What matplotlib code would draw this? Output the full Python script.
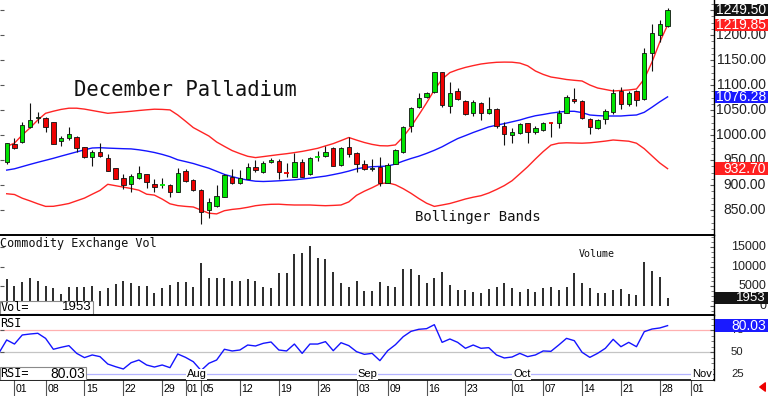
import numpy as np
import pandas as pd
import matplotlib
matplotlib.use('Agg')
import matplotlib.pyplot as plt
from matplotlib import transforms
from matplotlib.patches import Rectangle, FancyArrowPatch
from matplotlib.ticker import MultipleLocator

# ---------------- data ----------------
holidays = ['2024-07-04', '2024-09-02']
dates = pd.bdate_range('2024-06-28', '2024-10-29', freq='C', holidays=holidays)

open_ = np.array([
    946.7, 981.3, 986.6, 1016.6, 1034.0, 1034.6, 1025.3, 988.0, 993.3, 996.6,
    975.3, 955.3, 966.6, 954.6, 934.6, 913.3, 901.3, 913.3, 922.0, 901.3,
    899.5, 900.0, 886.6, 928.0, 910.0, 890.0, 850.0, 858.0, 876.6, 916.6,
    904.6, 912.0, 935.3, 925.3, 945.3, 948.6, 925.5, 916.6, 946.6, 921.3,
    956.2, 958.6, 973.3, 940.0, 975.3, 963.3, 942.0, 932.4, 936.6, 903.3,
    942.0, 966.6, 1018.0, 1056.6, 1075.3, 1086.6, 1125.3, 1058.0, 1088.6, 1068.6,
    1044.6, 1064.6, 1044.6, 1051.3, 1018.0, 1000.0, 1004.6, 1023.3, 1006.6, 1010.0,
    1025.0, 1024.6, 1044.6, 1072.0, 1068.0, 1031.3, 1013.3, 1031.3, 1046.6, 1088.6,
    1062.0, 1088.0, 1071.3, 1164.6, 1200.0, 1218.0])
high = np.array([
    985.0, 994.6, 1025.3, 1063.3, 1045.3, 1036.6, 1026.6, 998.6, 1016.6, 998.6,
    976.6, 970.0, 983.3, 961.3, 934.6, 922.0, 921.3, 938.6, 922.0, 912.0,
    914.6, 901.3, 933.3, 932.0, 911.3, 891.3, 873.3, 900.0, 921.3, 931.3,
    930.0, 943.3, 950.0, 948.0, 954.6, 951.3, 943.3, 964.6, 951.3, 955.3,
    968.6, 978.0, 976.6, 975.3, 996.6, 966.0, 950.0, 951.3, 956.6, 943.3,
    971.3, 1018.0, 1056.6, 1083.3, 1086.6, 1126.6, 1126.6, 1106.6, 1093.3, 1070.0,
    1070.0, 1066.6, 1076.6, 1053.3, 1026.6, 1013.3, 1024.6, 1024.6, 1018.0, 1026.6,
    1026.6, 1050.0, 1080.0, 1093.3, 1070.0, 1033.3, 1031.3, 1051.3, 1091.3, 1095.3,
    1088.6, 1090.0, 1173.3, 1222.0, 1230.0, 1253.3])
low = np.array([
    943.0, 972.0, 983.3, 1013.3, 1023.3, 1005.3, 981.3, 978.6, 990.0, 966.6,
    954.6, 938.0, 956.6, 928.0, 911.3, 892.0, 885.3, 912.0, 894.6, 886.6,
    894.6, 876.6, 885.3, 906.0, 888.6, 822.5, 833.3, 855.3, 876.6, 902.0,
    902.0, 911.3, 926.6, 923.3, 943.3, 911.3, 916.6, 915.3, 916.6, 920.0,
    948.6, 956.6, 938.0, 938.0, 956.6, 927.0, 930.0, 928.6, 898.0, 903.3,
    942.0, 964.6, 1006.6, 1053.3, 1073.3, 1084.6, 1056.6, 1043.3, 1070.0, 1040.0,
    1038.0, 1030.0, 1042.0, 1013.3, 980.0, 984.6, 1002.0, 983.3, 1002.0, 1008.6,
    995.3, 1013.3, 1043.3, 1063.3, 1031.3, 1002.0, 1011.3, 1022.0, 1042.0, 1051.3,
    1058.0, 1058.0, 1070.0, 1128.6, 1186.6, 1216.6])
close = np.array([
    983.3, 974.6, 1020.0, 1030.0, 1036.0, 1016.6, 982.0, 993.3, 1001.3, 974.6,
    955.3, 966.6, 958.6, 928.6, 912.0, 900.0, 918.0, 923.3, 905.3, 895.3,
    900.5, 886.6, 923.3, 908.0, 890.0, 846.0, 866.6, 878.0, 920.0, 904.6,
    913.3, 935.3, 930.0, 944.6, 950.0, 925.3, 924.8, 946.6, 916.6, 953.3,
    956.8, 966.6, 938.6, 973.3, 962.0, 942.6, 931.3, 934.0, 904.6, 940.0,
    970.0, 1016.6, 1054.6, 1073.3, 1083.3, 1125.3, 1060.0, 1084.6, 1071.3, 1042.0,
    1065.3, 1044.6, 1051.3, 1018.0, 1002.0, 1006.6, 1021.3, 1006.6, 1013.3, 1024.6,
    1024.2, 1044.6, 1076.6, 1068.6, 1033.3, 1015.3, 1030.0, 1048.6, 1084.6, 1062.0,
    1084.6, 1070.0, 1164.6, 1203.3, 1222.0, 1249.5])

bb_upper = np.array([
    977.0, 983.8, 1000.0, 1014.2, 1030.0, 1043.4, 1047.6, 1051.2, 1053.6, 1053.6,
    1051.8, 1049.0, 1046.2, 1043.4, 1044.8, 1046.0, 1047.4, 1049.0, 1050.4, 1051.6,
    1051.2, 1050.2, 1040.0, 1027.6, 1014.8, 1006.4, 998.0, 986.0, 977.2, 968.8,
    962.8, 957.4, 954.8, 956.8, 958.8, 960.8, 962.6, 964.8, 967.2, 970.2,
    973.4, 978.2, 982.8, 988.8, 995.0, 989.8, 985.0, 981.2, 978.6, 978.2,
    980.2, 996.2, 1016.6, 1040.0, 1064.2, 1090.0, 1111.8, 1124.8, 1130.6, 1135.2,
    1138.8, 1142.0, 1144.0, 1145.4, 1145.8, 1145.6, 1143.8, 1138.4, 1128.0, 1121.2,
    1116.0, 1113.6, 1111.0, 1109.4, 1108.0, 1100.0, 1094.0, 1091.0, 1088.0, 1089.0,
    1090.0, 1092.0, 1112.0, 1146.0, 1186.0, 1219.85])
bb_mid = np.array([
    929.8, 932.4, 936.8, 941.2, 945.4, 949.4, 953.4, 957.8, 962.0, 966.2,
    970.4, 974.0, 974.6, 973.8, 973.2, 972.6, 972.2, 970.4, 968.0, 965.0,
    961.2, 956.6, 950.4, 946.8, 943.0, 938.2, 933.6, 927.4, 921.2, 916.8,
    912.8, 909.8, 907.6, 907.0, 907.6, 908.4, 909.4, 910.4, 912.0, 913.6,
    915.8, 917.8, 920.8, 924.0, 927.8, 932.4, 935.0, 936.6, 937.2, 937.8,
    942.0, 947.8, 953.0, 957.6, 963.2, 969.4, 976.4, 984.8, 992.8, 998.8,
    1005.0, 1010.6, 1016.2, 1019.6, 1022.8, 1026.4, 1030.0, 1034.6, 1038.5, 1041.0,
    1043.8, 1045.8, 1047.4, 1047.4, 1044.8, 1040.0, 1038.8, 1038.0, 1038.0, 1038.0,
    1039.2, 1040.0, 1045.4, 1055.6, 1066.4, 1076.28])
bb_lower = np.array([
    882.5, 881.0, 873.6, 868.2, 862.4, 857.2, 857.4, 860.0, 863.0, 868.4,
    873.8, 881.6, 889.2, 901.4, 898.6, 895.8, 893.0, 889.6, 881.6, 879.8,
    871.8, 862.4, 858.8, 857.2, 856.0, 849.8, 843.6, 842.2, 848.6, 851.2,
    852.8, 855.4, 858.6, 860.4, 861.4, 861.6, 860.6, 860.0, 860.0, 860.0,
    859.2, 858.6, 859.2, 860.0, 866.2, 879.4, 887.6, 894.6, 902.4, 904.4,
    900.4, 892.6, 883.4, 873.0, 863.6, 857.2, 860.0, 863.0, 867.4, 872.0,
    875.6, 878.6, 884.0, 891.0, 898.8, 908.6, 922.4, 936.4, 952.0, 966.8,
    979.8, 983.6, 984.4, 984.0, 983.6, 984.4, 986.0, 987.8, 990.0, 988.8,
    987.6, 983.6, 972.6, 958.2, 944.0, 932.7])

volume = np.array([
    6800, 5100, 6035, 7225, 6460, 5100, 4505, 3060, 4760, 4760,
    4930, 5100, 3910, 4505, 5610, 6460, 5950, 5100, 5100, 3230,
    4505, 5355, 6035, 6035, 4760, 10880, 7055, 7225, 7225, 6460,
    6460, 6885, 6460, 4930, 4505, 8330, 8330, 13260, 13430, 15385,
    12155, 12070, 8755, 5950, 4930, 6460, 3910, 3910, 6035, 5100,
    4760, 9350, 9350, 7905, 5780, 7055, 8755, 5355, 4080, 4080,
    3655, 3230, 4250, 4930, 5950, 4675, 3655, 4335, 3655, 4675,
    4760, 4080, 4930, 8330, 5950, 4675, 3230, 3230, 4080, 4335,
    2975, 2805, 11135, 9010, 7310, 1953])

# RSI series starts one session earlier (Jun 27), its first point is at the left edge
rsi = np.array([
    49.2,
    63.9, 59.3, 69.5, 70.6, 71.4, 65.7, 53.4, 55.6, 57.5, 48.8,
    44.0, 47.0, 45.1, 36.8, 33.8, 31.2, 38.3, 41.3, 35.7, 33.4,
    35.7, 32.7, 48.1, 44.3, 39.4, 29.5, 37.6, 41.3, 53.4, 51.5,
    52.6, 58.2, 57.1, 60.1, 61.6, 52.6, 51.5, 59.3, 48.8, 59.3,
    59.3, 62.0, 51.8, 60.8, 57.5, 50.7, 47.7, 48.8, 40.6, 51.8,
    58.6, 67.6, 73.6, 75.9, 76.6, 81.1, 61.2, 65.0, 61.2, 54.5,
    58.2, 54.5, 55.2, 47.0, 43.6, 44.7, 48.8, 45.1, 47.0, 51.5,
    51.1, 58.2, 65.7, 63.1, 50.0, 44.3, 48.8, 54.5, 64.6, 56.3,
    61.2, 56.3, 73.2, 76.2, 77.4, 80.03])

tick_dates = ['2024-07-01', '2024-07-08', '2024-07-15', '2024-07-22', '2024-07-29',
              '2024-08-01', '2024-08-05', '2024-08-12', '2024-08-19', '2024-08-26',
              '2024-09-03', '2024-09-09', '2024-09-16', '2024-09-23', '2024-10-01',
              '2024-10-07', '2024-10-14', '2024-10-21', '2024-10-28', '2024-11-01']
month_dates = ['2024-08-01', '2024-09-03', '2024-10-01', '2024-11-01']
month_labels = ['Aug', 'Sep', 'Oct', 'Nov']

price_ticks = [850, 900, 950, 1000, 1050, 1100, 1150, 1200, 1250]
vol_ticks = [0, 5000, 10000, 15000]
rsi_ticks = [25, 50, 75]

title = 'December Palladium'
vol_title = 'Commodity Exchange Vol'

# ---------------- layout ----------------
W, H = 768, 396
PR = 714                      # right edge of plotting area (px)
X0, PXD = 6.7, 7.775          # px of first session, px per session
GREEN, RED, BLUE = '#00e400', '#ee0000', '#1414ff'
MONO = 'DejaVu Sans Mono'
SANS = 'Liberation Sans'

fig = plt.figure(figsize=(W / 100, H / 100), dpi=100)
fig.patch.set_facecolor('white')

def rect(top, bottom):
    return [0, 1 - bottom / H, PR / W, (bottom - top) / H]

ax_p = fig.add_axes(rect(0, 235))
ax_v = fig.add_axes(rect(235, 315))
ax_r = fig.add_axes(rect(315, 380))

x = np.arange(len(dates))
x_rsi = np.arange(-1, len(dates))
xlim = (-X0 / PXD, (PR - X0) / PXD)
for ax in (ax_p, ax_v, ax_r):
    ax.set_xlim(*xlim)
    ax.set_facecolor('white')
    ax.spines['left'].set_visible(False)
    ax.spines['right'].set_color('black')
    ax.spines['right'].set_linewidth(1.0)

ax_p.set_ylim(800, 1270)
ax_v.set_ylim(-2295, 18100)
ax_r.set_ylim(18.8, 92.0)

ax_p.spines['top'].set_visible(False)
ax_p.spines['bottom'].set_visible(False)
ax_v.spines['bottom'].set_visible(False)
ax_v.spines['top'].set_linewidth(1.4)
ax_r.spines['top'].set_linewidth(1.4)
ax_r.spines['bottom'].set_linewidth(1.2)

# ---------------- price panel ----------------
ax_p.plot(x, bb_upper, color='#ff2424', lw=1.0, zorder=1)
ax_p.plot(x, bb_lower, color='#ff2424', lw=1.0, zorder=1)
ax_p.plot(x, bb_mid, color=BLUE, lw=1.0, zorder=1)

up = close >= open_
cols = np.where(up, GREEN, RED)
body_lo = np.minimum(open_, close)
body_h = np.abs(close - open_)
doji = body_h < 1.5
ax_p.vlines(x, low, high, color='#111111', lw=0.8, zorder=2)
ax_p.bar(x[~doji], body_h[~doji], bottom=body_lo[~doji], width=0.56,
         color=cols[~doji], edgecolor='#111111', linewidth=0.6, zorder=3)
ax_p.hlines(close[doji], x[doji] - 0.3, x[doji] + 0.3, colors=cols[doji], lw=1.3, zorder=3)

ax_p.text(74 / PR, 1 - 95.7 / 235, title, transform=ax_p.transAxes, family=MONO,
          fontsize=14.8, color='#111111', va='baseline', ha='left')
ax_p.text(415 / PR, 1 - 220.7 / 235, 'Bollinger Bands', transform=ax_p.transAxes,
          family=MONO, fontsize=10.1, color='#111111', va='baseline', ha='left')

# ---------------- volume panel ----------------
ax_v.vlines(x, 0, volume, color='#111111', lw=1.25, zorder=2)
ax_v.text(0.5 / PR, (315 - 247.3) / 80, vol_title, transform=ax_v.transAxes, family=MONO,
          fontsize=8.5, color='#111111', va='baseline', ha='left')
ax_v.text(579 / PR, (315 - 256.7) / 80, 'Volume', transform=ax_v.transAxes, family=MONO,
          fontsize=7.2, color='#111111', va='baseline', ha='left')
ax_v.add_patch(Rectangle((0, 0), 93 / PR, 14 / 80, transform=ax_v.transAxes,
                         facecolor='white', edgecolor='#8a8a8a', lw=0.8, zorder=5))
ax_v.text(0.5 / PR, 7.5 / 80, 'Vol=', transform=ax_v.transAxes, family=MONO,
          fontsize=8.5, va='center', ha='left', zorder=6)
ax_v.text(91.5 / PR, 7.5 / 80, f'{volume[-1]:d}', transform=ax_v.transAxes, family=SANS,
          fontsize=9.5, va='center', ha='right', zorder=6)

# ---------------- RSI panel ----------------
ax_r.axhline(75, color='#ffb0b0', lw=0.9, zorder=1)
ax_r.axhline(50, color='#c4c4c4', lw=0.9, zorder=1)
ax_r.axhline(25, color='#b4b4ff', lw=0.9, zorder=1)
ax_r.plot(x_rsi, rsi, color=BLUE, lw=1.0, zorder=3)
ax_r.text(0.5 / PR, (380 - 327.3) / 65, 'RSI', transform=ax_r.transAxes, family=MONO,
          fontsize=8.5, va='baseline', ha='left')
ax_r.add_patch(Rectangle((0, 0), 86 / PR, 13 / 65, transform=ax_r.transAxes,
                         facecolor='white', edgecolor='#8a8a8a', lw=0.8, zorder=5))
ax_r.text(0.5 / PR, 6.5 / 65, 'RSI=', transform=ax_r.transAxes, family=MONO,
          fontsize=8.5, va='center', ha='left', zorder=6)
ax_r.text(85 / PR, 6.5 / 65, f'{rsi[-1]:.2f}', transform=ax_r.transAxes, family=SANS,
          fontsize=10, va='center', ha='right', zorder=6)

# ---------------- x axis ----------------
def pos(d):
    return int(np.busday_count(dates[0].date(), pd.Timestamp(d).date(), holidays=holidays))

tpos = [pos(d) for d in tick_dates]
for ax in (ax_p, ax_v):
    ax.tick_params(axis='x', bottom=False, labelbottom=False)
ax_r.set_xticks(tpos)
ax_r.tick_params(axis='x', direction='out', length=11.5, width=0.8, color='#555555',
                 labelbottom=False)
trx = transforms.blended_transform_factory(ax_r.transData, ax_r.transAxes)
for d, p in zip(tick_dates, tpos):
    ax_r.text(p + 0.2, (380 - 388.5) / 65, f'{pd.Timestamp(d).day:02d}', transform=trx,
              family=SANS, fontsize=7.6, va='center', ha='left', clip_on=False)
for d, lab in zip(month_dates, month_labels):
    ax_r.text(pos(d) + 0.15, 25, lab, family=SANS, fontsize=8, va='center', ha='left',
              zorder=4, clip_on=False,
              bbox=dict(facecolor='white', edgecolor='none', pad=0.6))

# ---------------- right axes ----------------
ax_p.set_yticks(price_ticks)
ax_p.yaxis.set_minor_locator(MultipleLocator(12.5))
ax_v.set_yticks(vol_ticks)
ax_v.yaxis.set_minor_locator(MultipleLocator(1250))
ax_r.set_yticks(rsi_ticks)
ax_r.yaxis.set_minor_locator(MultipleLocator(6.25))
for ax in (ax_p, ax_v, ax_r):
    ax.tick_params(axis='y', which='major', left=True, right=True, direction='in',
                   length=3, width=0.8, colors='#555555', labelleft=False, labelright=False)
    ax.tick_params(axis='y', which='minor', left=False, right=True, direction='in',
                   length=2, width=0.6, colors='#666666')

def axis_px_height(ax):
    return ax.get_position().height * H

def rlabel(ax, val, txt, size, fc=None, ha='right', xpx=766):
    tr = transforms.blended_transform_factory(fig.transFigure, ax.transData)
    tc = '#222222'
    if fc is not None:
        lo, hi = ax.get_ylim()
        h = 12.3 * (hi - lo) / axis_px_height(ax)
        fig.add_artist(Rectangle((715 / W, val - h / 2), (W - 715) / W, h, transform=tr,
                                 facecolor=fc, edgecolor='none', zorder=5))
        tc = 'white'
    fig.text(xpx / W, val, txt, transform=tr, family=SANS, fontsize=size, color=tc,
             ha=ha, va='center', zorder=6 if fc is not None else 4)

for v in price_ticks:
    rlabel(ax_p, v, f'{v:.2f}', 10)
for v in vol_ticks:
    rlabel(ax_v, v, f'{v:d}', 9)
for v in rsi_ticks:
    rlabel(ax_r, v, f'{v:d}', 8.2, ha='left', xpx=731)

rlabel(ax_p, close[-1], f'{close[-1]:.2f}', 10, fc='#141414')
rlabel(ax_p, bb_upper[-1], f'{bb_upper[-1]:.2f}', 10, fc='#ff2020')
rlabel(ax_p, bb_mid[-1], f'{bb_mid[-1]:.2f}', 10, fc='#1a1aff')
rlabel(ax_p, bb_lower[-1], f'{bb_lower[-1]:.2f}', 10, fc='#ff2020')
rlabel(ax_v, volume[-1], f'{volume[-1]:d}', 9.5, fc='#141414')
rlabel(ax_r, rsi[-1], f'{rsi[-1]:.2f}', 10, fc='#1a1aff')

# small red arrow at the bottom right
fig.add_artist(FancyArrowPatch((767 / W, 1 - 387 / H), (757 / W, 1 - 387 / H),
                               transform=fig.transFigure, color='#ee0000',
                               arrowstyle='simple,head_length=4,head_width=6,tail_width=2.6',
                               mutation_scale=1))

fig.savefig('out.png', dpi=100, facecolor='white')
